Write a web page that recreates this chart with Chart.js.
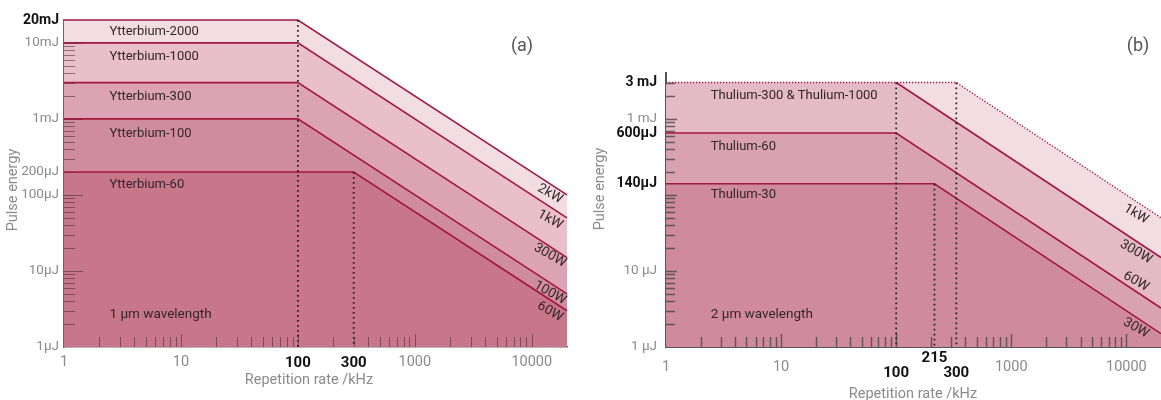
<!DOCTYPE html>
<html>
<head>
<meta charset="utf-8">
<script src="https://cdn.jsdelivr.net/npm/chart.js@4.4.1/dist/chart.umd.min.js"></script>
<style>
  body { margin:0; background:#fff; width:1161px; height:400px; overflow:hidden; position:relative; }
  canvas { position:absolute; top:0; }
  #chartA { left:0; }
  #chartB { left:580px; }
</style>
</head>
<body>
<canvas id="chartA" width="580" height="400"></canvas>
<canvas id="chartB" width="581" height="400"></canvas>
<script>
// ---- (a) 1 µm : Ytterbium lasers (energy in µJ, rate in kHz) ----
const ybNames   = ['Ytterbium-60', 'Ytterbium-100', 'Ytterbium-300', 'Ytterbium-1000', 'Ytterbium-2000'];
const ybPower   = ['60W', '100W', '300W', '1kW', '2kW'];
const ybRate    = [[1, 300, 20000], [1, 100, 20000], [1, 100, 20000], [1, 100, 20000], [1, 100, 20000]];
const ybEnergy  = [[200, 200, 3], [1000, 1000, 5], [3000, 3000, 15], [10000, 10000, 50], [20000, 20000, 100]];
const ybMarkRate = [100, 300];
const ybMarkTop  = [20000, 200];
const ybXTicks  = [1, 10, 100, 300, 1000, 10000];
const ybXLabels = ['1', '10', '100', '300', '1000', '10000'];
const ybXBold   = [100, 300];
const ybYTicks  = [1, 10, 100, 200, 1000, 10000, 20000];
const ybYLabels = ['1µJ', '10µJ', '100µJ', '200µJ', '1mJ', '10mJ', '20mJ'];
const ybYBold   = [20000];

// ---- (b) 2 µm : Thulium lasers ----
const tmNames   = ['Thulium-30', 'Thulium-60', 'Thulium-300 & Thulium-1000', ''];
const tmPower   = ['30W', '60W', '300W', '1kW'];
const tmRate    = [[1, 215, 20000], [1, 100, 20000], [1, 100, 20000], [1, 333, 20000]];
const tmEnergy  = [[140, 140, 1.5], [650, 650, 3.25], [3000, 3000, 15], [3000, 3000, 50]];
const tmMarkRate = [100, 215, 333];
const tmMarkTop  = [3000, 140, 3000];
const tmXTicks  = [1, 10, 100, 215, 333, 1000, 10000];
const tmXLabels = ['1', '10', '100', '215', '300', '1000', '10000'];
const tmXBold   = [100, 215, 333];
const tmYTicks  = [1, 10, 140, 650, 1000, 3000];
const tmYLabels = ['1 µJ', '10 µJ', '140µJ', '600µJ', '1 mJ', '3 mJ'];
const tmYBold   = [140, 650, 3000];

const RED = '#a3173f';
const GREY = '#8a8a8a';
Chart.defaults.font.family = 'Roboto';

const decor = {
  id: 'decor',
  beforeDatasetsDraw(chart, args, o) {
    const {ctx, chartArea: a, scales: {x, y}} = chart;
    ctx.save();
    ctx.strokeStyle = o.tickColor;
    ctx.lineWidth = o.tickWidth;
    ctx.beginPath();
    for (let d = 0; d <= 4; d++) for (let k = 1; k <= 9; k++) {
      const v = k * Math.pow(10, d);
      if (v > x.min && v < x.max) {
        const px = Math.round(x.getPixelForValue(v)) + 0.5;
        ctx.moveTo(px, a.bottom); ctx.lineTo(px, a.bottom - (k === 1 ? o.xMajor : o.xMinor));
      }
      if (v > y.min && v < y.max) {
        const py = Math.round(y.getPixelForValue(v)) + 0.5;
        ctx.moveTo(a.left, py); ctx.lineTo(a.left + (k === 1 ? o.yMajor : o.yMinor), py);
      }
    }
    ctx.stroke();
    ctx.restore();
  },
  afterDatasetsDraw(chart, args, o) {
    const {ctx, chartArea: a, scales: {x, y}} = chart;
    ctx.save();
    ctx.fillStyle = '#33262b';
    ctx.font = '13px Roboto';
    ctx.textBaseline = 'middle';
    ctx.textAlign = 'left';
    const lx = x.getPixelForValue(2.45);
    o.names.forEach((n, i) => {
      if (n) ctx.fillText(n, lx, y.getPixelForValue(o.energy[i][0]) + o.nameShift[i]);
    });
    ctx.font = '13.5px Roboto';
    ctx.fillText(o.wave, lx, a.bottom - 32);

    // power labels along the sloped ends
    ctx.textAlign = 'center';
    ctx.font = '13.5px Roboto';
    o.power.forEach((p, i) => {
      const r = o.rate[i], e = o.energy[i];
      const x1 = x.getPixelForValue(r[1]), y1 = y.getPixelForValue(e[1]);
      const x2 = x.getPixelForValue(r[2]), y2 = y.getPixelForValue(e[2]);
      const ang = Math.atan2(y2 - y1, x2 - x1);
      const cx = a.right - o.powerInset;
      const cy = y1 + (y2 - y1) * (cx - x1) / (x2 - x1) + o.powerShift[i];
      ctx.save();
      ctx.translate(cx, cy);
      ctx.rotate(ang * 0.9);
      ctx.fillText(p, 0, 0);
      ctx.restore();
    });

    // panel tag
    ctx.fillStyle = '#555';
    ctx.font = '18px Roboto';
    ctx.fillText(o.tag[0], o.tag[1], o.tag[2]);

    // axis titles
    ctx.fillStyle = GREY;
    ctx.font = '14.5px Roboto';
    ctx.fillText('Repetition rate /kHz', o.xTitle[0], o.xTitle[1]);
    ctx.save();
    ctx.translate(o.yTitle[0], o.yTitle[1]);
    ctx.rotate(-Math.PI / 2);
    ctx.fillText('Pulse energy', 0, 0);
    ctx.restore();

    // staggered bold x labels (panel b)
    ctx.fillStyle = '#111';
    ctx.font = 'bold 15px Roboto';
    (o.extraX || []).forEach(([v, label, py]) => ctx.fillText(label, x.getPixelForValue(v), py));
    ctx.restore();
  }
};

function buildChart(id, s) {
  const datasets = [];
  s.markRate.forEach((r, i) => datasets.push({
    data: [{x: r, y: s.markTop[i]}, {x: r, y: 1}],
    borderColor: '#1e1e1e', borderWidth: 1.7, borderDash: [1.7, 3.3],
    pointRadius: 0, fill: false, clip: 2
  }));
  s.energy.forEach((e, i) => datasets.push(Object.assign({
    data: s.rate[i].map((r, j) => ({x: r, y: e[j]})),
    borderColor: RED, borderWidth: 1.6, backgroundColor: s.fill[i],
    fill: 'start', pointRadius: 0, clip: 4
  }, s.style ? s.style(i) : {})));

  const bold = (list, c) => c.tick && list.includes(c.tick.value);
  return new Chart(document.getElementById(id), {
    type: 'line',
    data: {datasets},
    options: {
      responsive: false, animation: false,
      layout: {padding: s.padding},
      plugins: {
        legend: {display: false}, tooltip: {enabled: false},
        filler: {drawTime: 'beforeDatasetsDraw'},
        decor: s.decor
      },
      scales: {
        x: {
          type: 'logarithmic', min: 1, max: 20000,
          afterBuildTicks: sc => { sc.ticks = s.xTicks.map(v => ({value: v})); },
          afterFit: sc => { sc.height = 53; },
          grid: {drawOnChartArea: false, drawTicks: false},
          border: {color: s.axisColor, width: s.axisWidth},
          ticks: {
            autoSkip: false, maxRotation: 0, padding: s.xPad,
            callback: (v, i) => s.xHide && s.xBold.includes(s.xTicks[i]) ? '' : s.xLabels[i],
            color: c => bold(s.xBold, c) ? '#111' : GREY,
            font: c => bold(s.xBold, c) ? {size: 15, weight: 'bold'} : {size: 14.5}
          }
        },
        y: {
          type: 'logarithmic', min: 1, max: s.yMax,
          afterBuildTicks: sc => { sc.ticks = s.yTicks.map(v => ({value: v})); },
          afterFit: sc => { sc.width = s.yWidth; },
          grid: {drawOnChartArea: false, drawTicks: false},
          border: {color: s.axisColor, width: s.axisWidth},
          ticks: {
            autoSkip: false, padding: s.yPad,
            callback: (v, i) => s.yLabels[i],
            color: c => bold(s.yBold, c) ? '#111' : GREY,
            font: c => bold(s.yBold, c) ? {size: 14, weight: 'bold'} : {size: 13.5}
          }
        }
      }
    },
    plugins: [decor]
  });
}

buildChart('chartA', {
  rate: ybRate, energy: ybEnergy,
  fill: ['#c7768b', '#d08c9f', '#dba3b3', '#e8bfca', '#f2dde3'],
  markRate: ybMarkRate, markTop: ybMarkTop,
  xTicks: ybXTicks, xLabels: ybXLabels, xBold: ybXBold, xHide: false, xPad: 7,
  yTicks: ybYTicks, yLabels: ybYLabels, yBold: ybYBold, yMax: 20000, yWidth: 64, yPad: 5,
  padding: {left: 0, top: 20, right: 13, bottom: 0},
  axisColor: '#666', axisWidth: 1.5,
  decor: {
    tickColor: 'rgba(70,40,50,0.55)', tickWidth: 1, xMajor: 13, xMinor: 10, yMajor: 19, yMinor: 11,
    names: ybNames, energy: ybEnergy, rate: ybRate, power: ybPower,
    nameShift: [13, 15, 14, 14, 12], powerShift: [12, 10, 9, 13, 10], powerInset: 17,
    wave: '1 µm wavelength', tag: ['(a)', 522, 46],
    xTitle: [309, 380], yTitle: [13, 190]
  }
});

buildChart('chartB', {
  rate: tmRate, energy: tmEnergy,
  fill: ['#cf8a9d', '#d9a2b2', '#e4bac6', '#f2dde3'],
  markRate: tmMarkRate, markTop: tmMarkTop,
  xTicks: tmXTicks, xLabels: tmXLabels, xBold: tmXBold, xHide: true, xPad: 12,
  yTicks: tmYTicks, yLabels: tmYLabels, yBold: tmYBold, yMax: 4000, yWidth: 86, yPad: 9,
  padding: {left: 0, top: 73, right: 0, bottom: 0},
  axisColor: '#555', axisWidth: 2,
  style: i => i === 3 ? {borderDash: [1.3, 1.7], borderWidth: 1.4}
           : i === 2 ? {segment: {borderColor: c => c.p0DataIndex === 0 ? 'transparent' : RED}} : {},
  decor: {
    tickColor: 'rgba(70,70,70,0.8)', tickWidth: 1.4, xMajor: 13, xMinor: 10, yMajor: 11, yMinor: 9,
    names: tmNames, energy: tmEnergy, rate: tmRate, power: tmPower,
    nameShift: [11, 14, 13, 0], powerShift: [11, -10, 11, 13], powerInset: 25,
    wave: '2 µm wavelength', tag: ['(b)', 558, 46],
    xTitle: [333, 394], yTitle: [20, 189],
    extraX: [[100, '100', 373], [215, '215', 358], [333, '300', 373]]
  }
});
</script>
</body>
</html>
